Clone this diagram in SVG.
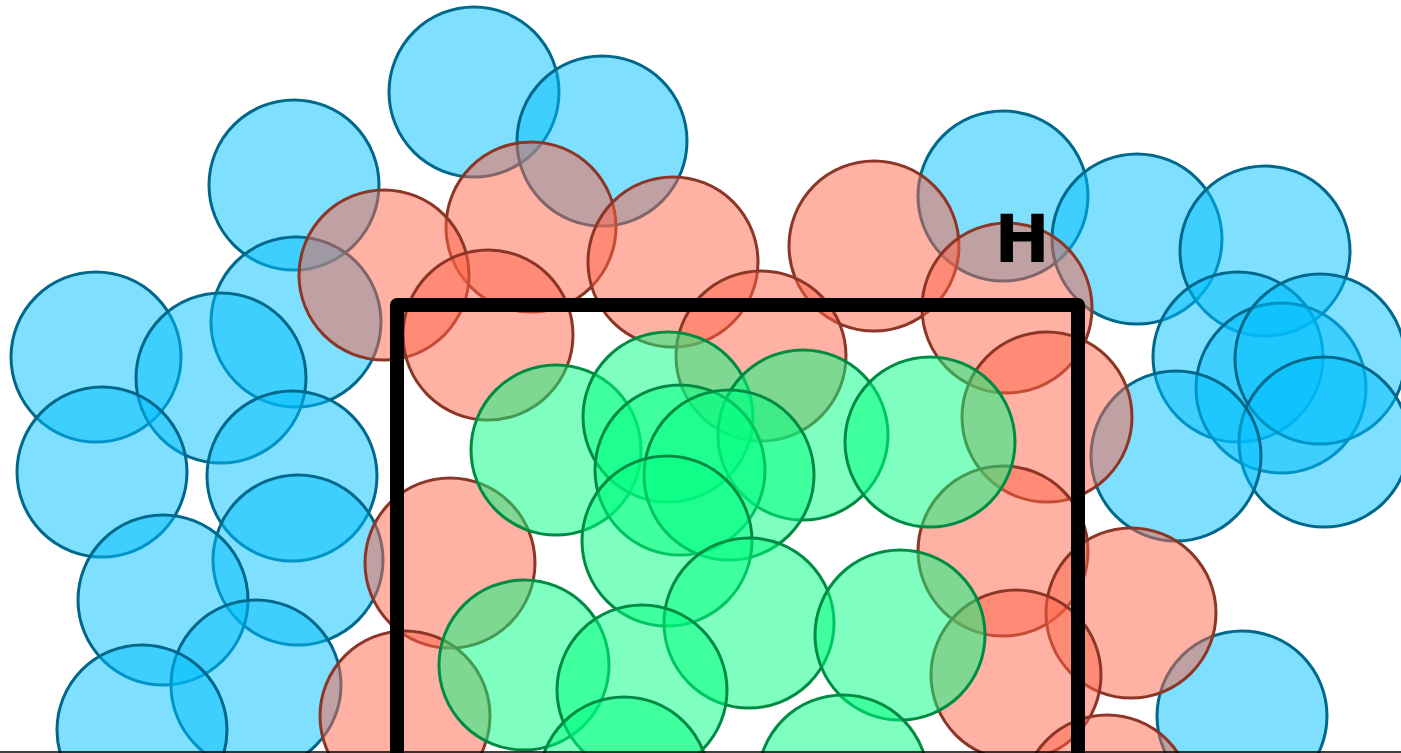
<svg xmlns="http://www.w3.org/2000/svg" width="1401" height="753" viewBox="0 0 1401 753">
<style>
.b{fill:#00bfff;fill-opacity:0.5;stroke:#00688b;stroke-width:3}
.r{fill:#ff6347;fill-opacity:0.5;stroke:#8b3626;stroke-width:3}
.g{fill:#00ff7f;fill-opacity:0.5;stroke:#008b45;stroke-width:3}
</style>
<rect width="1401" height="753" fill="#fff"/>
<g id="blue">
<circle class="b" cx="474" cy="92" r="85"/>
<circle class="b" cx="602" cy="141" r="85"/>
<circle class="b" cx="294" cy="185" r="85"/>
<circle class="b" cx="1003" cy="196" r="85"/>
<circle class="b" cx="1137" cy="239" r="85"/>
<circle class="b" cx="1265" cy="251" r="85"/>
<circle class="b" cx="96" cy="357" r="85"/>
<circle class="b" cx="296" cy="322" r="85"/>
<circle class="b" cx="221" cy="378" r="85"/>
<circle class="b" cx="1238" cy="357" r="85"/>
<circle class="b" cx="1281" cy="388" r="85"/>
<circle class="b" cx="1320" cy="359" r="85"/>
<circle class="b" cx="1324" cy="442" r="85"/>
<circle class="b" cx="1176" cy="456" r="85"/>
<circle class="b" cx="102" cy="472" r="85"/>
<circle class="b" cx="292" cy="476" r="85"/>
<circle class="b" cx="298" cy="560" r="85"/>
<circle class="b" cx="163" cy="600" r="85"/>
<circle class="b" cx="256" cy="685" r="85"/>
<circle class="b" cx="142" cy="730" r="85"/>
<circle class="b" cx="1242" cy="716" r="85"/>
</g>
<g id="red">
<circle class="r" cx="531" cy="227" r="85"/>
<circle class="r" cx="384" cy="275" r="85"/>
<circle class="r" cx="673" cy="262" r="85"/>
<circle class="r" cx="874" cy="246" r="85"/>
<circle class="r" cx="1007" cy="308" r="85"/>
<circle class="r" cx="488" cy="335" r="85"/>
<circle class="r" cx="761" cy="356" r="85"/>
<circle class="r" cx="1047" cy="417" r="85"/>
<circle class="r" cx="450" cy="563" r="85"/>
<circle class="r" cx="1003" cy="551" r="85"/>
<circle class="r" cx="1131" cy="613" r="85"/>
<circle class="r" cx="1016" cy="675" r="85"/>
<circle class="r" cx="405" cy="716" r="85"/>
<circle class="r" cx="1107" cy="800" r="85"/>
</g>
<g id="green">
<circle class="g" cx="556" cy="450" r="85"/>
<circle class="g" cx="668" cy="417" r="85"/>
<circle class="g" cx="803" cy="435" r="85"/>
<circle class="g" cx="930" cy="442" r="85"/>
<circle class="g" cx="680" cy="470" r="85"/>
<circle class="g" cx="729" cy="475" r="85"/>
<circle class="g" cx="667" cy="541" r="85"/>
<circle class="g" cx="749" cy="623" r="85"/>
<circle class="g" cx="524" cy="665" r="85"/>
<circle class="g" cx="642" cy="690" r="85"/>
<circle class="g" cx="900" cy="635" r="85"/>
<circle class="g" cx="624" cy="782" r="85"/>
<circle class="g" cx="843" cy="780" r="85"/>
</g>
<g id="frame">
<path d="M397,760 L397,305 L1078,305 L1078,760" fill="none" stroke="#000" stroke-width="14" stroke-linejoin="round"/>
</g>
<g id="label">
<text x="1022" y="262" font-family="DejaVu Sans, sans-serif" font-weight="bold" font-size="66" text-anchor="middle" fill="#000">H</text>
</g>
<line x1="0" y1="752" x2="1401" y2="752" stroke="#000" stroke-width="1.5"/>
</svg>
